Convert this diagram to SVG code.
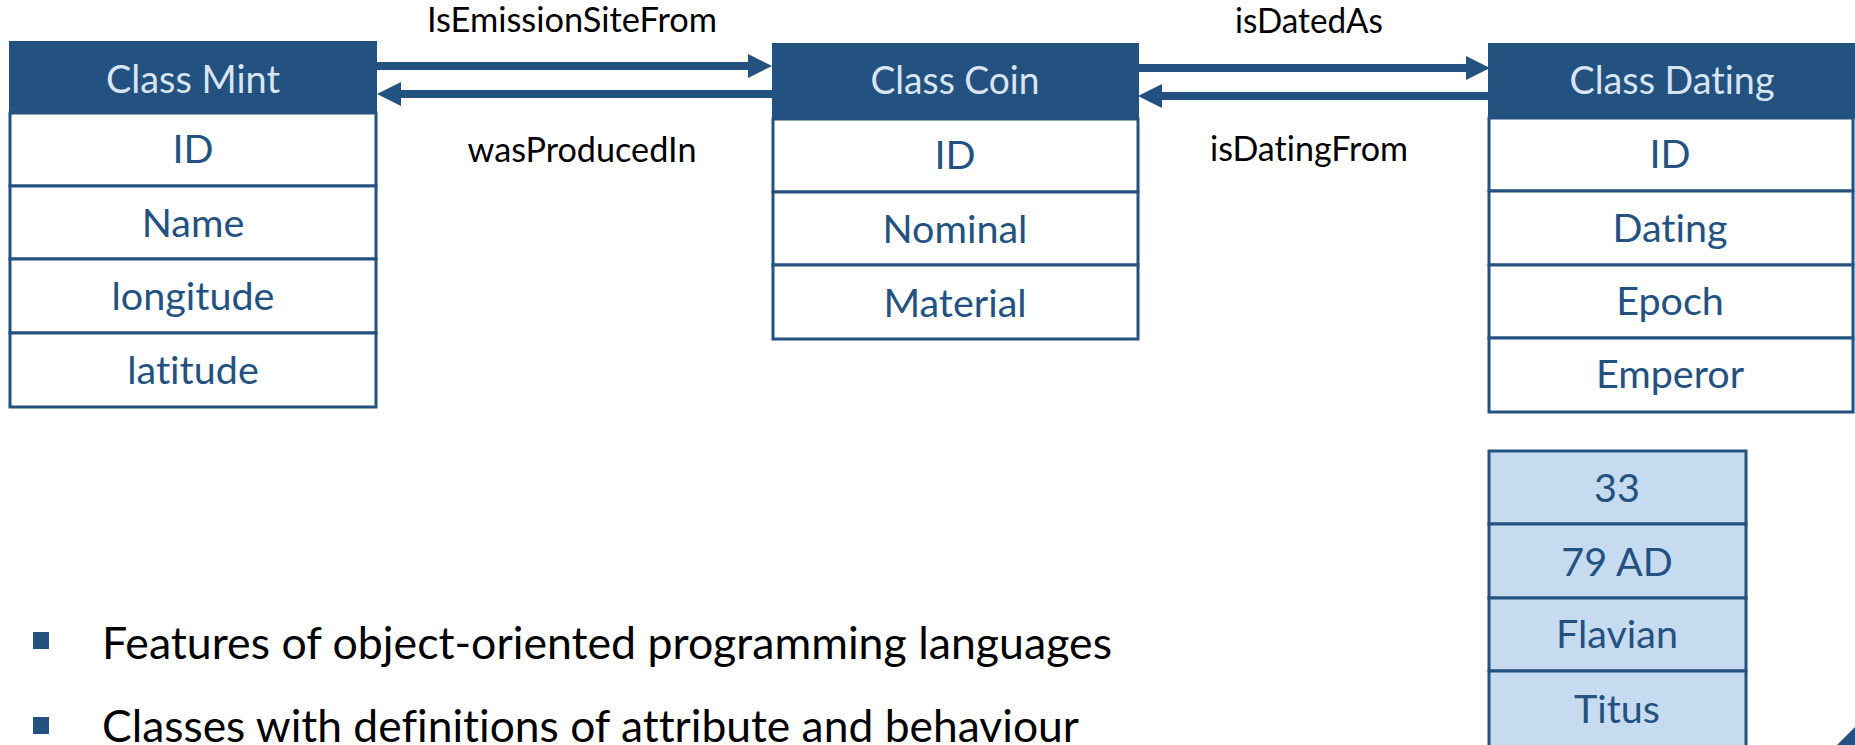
<svg xmlns="http://www.w3.org/2000/svg" width="1855" height="745" viewBox="0 0 1855 745">
<defs>
<style>
text{font-variant-ligatures:none;}
.hdr{fill:#235180;}
.row{fill:#ffffff;stroke:#235180;stroke-width:3;}
.lrow{fill:#c6dbf0;stroke:#235180;stroke-width:3;}
.ht{font-family:Lato,"Liberation Sans",sans-serif;font-size:39px;fill:#dae5f2;text-anchor:middle;}
.at{font-family:Lato,"Liberation Sans",sans-serif;font-size:39.5px;fill:#235180;text-anchor:middle;}
.lbl{font-family:Lato,"Liberation Sans",sans-serif;font-size:34px;fill:#000000;text-anchor:middle;}
.bul{font-family:Lato,"Liberation Sans",sans-serif;font-size:45px;fill:#000000;}
.conn{stroke:#235180;stroke-width:8;fill:none;marker-end:url(#head);}
</style>
<marker id="head" viewBox="0 0 24 24" refX="0" refY="12" markerWidth="24" markerHeight="24" markerUnits="userSpaceOnUse" orient="auto">
<path d="M0,0 L24,12 L0,24 z" fill="#235180"/>
</marker>
</defs>
<rect width="1855" height="745" fill="#ffffff"/>
<g id="connectors">
<line class="conn" x1="376" y1="66" x2="748" y2="66"/>
<line class="conn" x1="772" y1="94" x2="401" y2="94"/>
<line class="conn" x1="1138" y1="68" x2="1466" y2="68"/>
<line class="conn" x1="1488" y1="96" x2="1162" y2="96"/>
</g>
<g id="labels">
<text class="lbl" x="572" y="32" textLength="290" lengthAdjust="spacingAndGlyphs">IsEmissionSiteFrom</text>
<text class="lbl" x="582" y="162" textLength="229" lengthAdjust="spacingAndGlyphs">wasProducedIn</text>
<text class="lbl" x="1309" y="33" textLength="148" lengthAdjust="spacingAndGlyphs">isDatedAs</text>
<text class="lbl" x="1309" y="161" textLength="198" lengthAdjust="spacingAndGlyphs">isDatingFrom</text>
</g>
<g id="class-mint">
<rect class="row" x="10" y="113" width="366" height="73"/>
<rect class="row" x="10" y="186" width="366" height="73"/>
<rect class="row" x="10" y="259" width="366" height="74"/>
<rect class="row" x="10" y="333" width="366" height="74"/>
<rect class="hdr" x="9" y="41" width="368" height="73"/>
<text class="ht" x="193" y="93" textLength="174" lengthAdjust="spacingAndGlyphs">Class Mint</text>
<text class="at" x="193" y="163">ID</text>
<text class="at" x="193" y="237">Name</text>
<text class="at" x="193" y="310">longitude</text>
<text class="at" x="193" y="384">latitude</text>
</g>
<g id="class-coin">
<rect class="row" x="773" y="119" width="365" height="73"/>
<rect class="row" x="773" y="192" width="365" height="73"/>
<rect class="row" x="773" y="265" width="365" height="74"/>
<rect class="hdr" x="772" y="43" width="367" height="77"/>
<text class="ht" x="955" y="94" textLength="169" lengthAdjust="spacingAndGlyphs">Class Coin</text>
<text class="at" x="955" y="169">ID</text>
<text class="at" x="955" y="243">Nominal</text>
<text class="at" x="955" y="317">Material</text>
</g>
<g id="class-dating">
<rect class="row" x="1489" y="118" width="364" height="73"/>
<rect class="row" x="1489" y="191" width="364" height="74"/>
<rect class="row" x="1489" y="265" width="364" height="73"/>
<rect class="row" x="1489" y="338" width="364" height="74"/>
<rect class="hdr" x="1488" y="43" width="367" height="76"/>
<text class="ht" x="1672" y="94" textLength="205" lengthAdjust="spacingAndGlyphs">Class Dating</text>
<text class="at" x="1670" y="168">ID</text>
<text class="at" x="1670" y="242">Dating</text>
<text class="at" x="1670" y="315">Epoch</text>
<text class="at" x="1670" y="388">Emperor</text>
</g>
<g id="dating-instance">
<rect class="lrow" x="1489" y="451" width="257" height="73"/>
<rect class="lrow" x="1489" y="524" width="257" height="74"/>
<rect class="lrow" x="1489" y="598" width="257" height="73"/>
<rect class="lrow" x="1489" y="671" width="257" height="80"/>
<text class="at" x="1617" y="502">33</text>
<text class="at" x="1617" y="576">79 AD</text>
<text class="at" x="1617" y="648">Flavian</text>
<text class="at" x="1617" y="723">Titus</text>
</g>
<g id="bullets">
<rect x="33" y="632" width="16" height="17" fill="#235180"/>
<rect x="33" y="717" width="16" height="17" fill="#235180"/>
<text class="bul" x="102" y="659" textLength="1010" lengthAdjust="spacingAndGlyphs">Features of object-oriented programming languages</text>
<text class="bul" x="102" y="742" textLength="977" lengthAdjust="spacingAndGlyphs">Classes with definitions of attribute and behaviour</text>
</g>
<polygon points="1837,745 1855,727 1855,745" fill="#235180"/>
</svg>
